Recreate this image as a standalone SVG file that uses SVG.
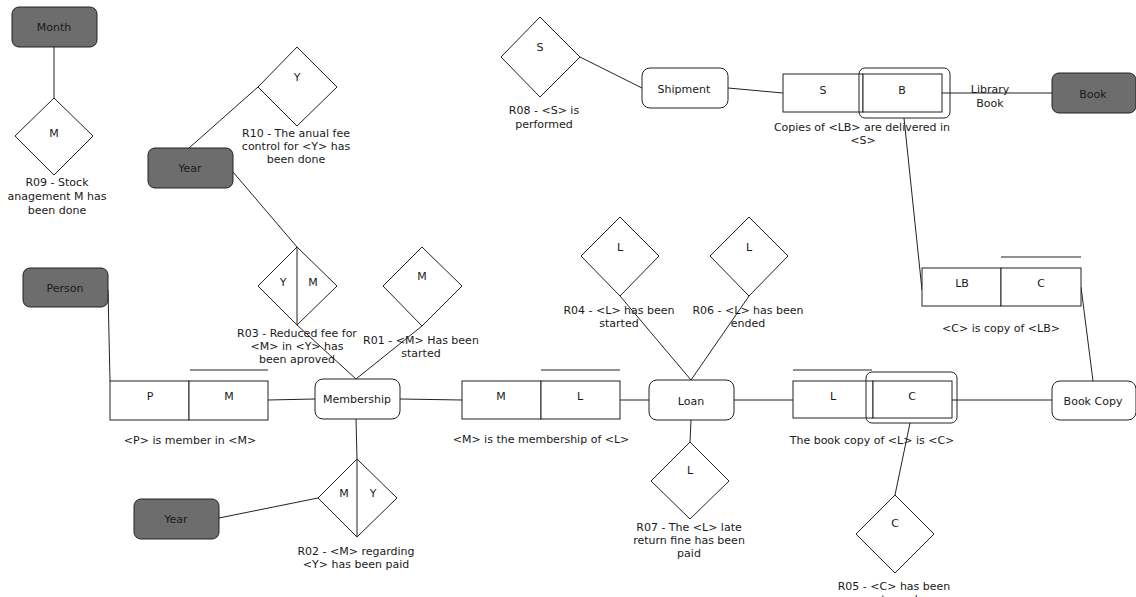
<svg xmlns="http://www.w3.org/2000/svg" width="1136" height="597" viewBox="0 0 1136 597">
  <style>
    text { font-family: "DejaVu Sans", Verdana, sans-serif; font-size: 11px; fill: #1a1a1a; text-anchor: middle; }
    .ent { fill: #6d6d6d; stroke: #222; stroke-width: 1; }
    .obj { fill: #fff; stroke: #222; stroke-width: 1; }
    .dia { fill: #fff; stroke: #222; stroke-width: 1; }
    .tbl { fill: #fff; stroke: #222; stroke-width: 1; }
    .wrap { fill: none; stroke: #222; stroke-width: 1; }
    .ln { fill: none; stroke: #222; stroke-width: 1; }
  </style>

  <!-- connectors -->
  <g id="connectors" class="ln">
    <line x1="54" y1="47" x2="54" y2="98"/>
    <line x1="189" y1="148" x2="258" y2="87"/>
    <line x1="233" y1="172" x2="297" y2="247"/>
    <line x1="297" y1="325" x2="356" y2="379"/>
    <line x1="422" y1="326" x2="356" y2="379"/>
    <line x1="108" y1="290" x2="110" y2="381"/>
    <line x1="268" y1="400" x2="315" y2="399"/>
    <line x1="400" y1="399" x2="462" y2="400"/>
    <line x1="356" y1="419" x2="357" y2="459"/>
    <line x1="219" y1="518" x2="318" y2="498"/>
    <line x1="620" y1="400" x2="649" y2="400"/>
    <line x1="620" y1="296" x2="691" y2="380"/>
    <line x1="749" y1="296" x2="691" y2="380"/>
    <line x1="691" y1="420" x2="690" y2="442"/>
    <line x1="734" y1="400" x2="793" y2="400"/>
    <line x1="952" y1="400" x2="1052" y2="400"/>
    <line x1="910" y1="423" x2="895" y2="495"/>
    <line x1="1093" y1="381" x2="1081" y2="287"/>
    <line x1="922" y1="290" x2="904" y2="118"/>
    <line x1="580" y1="57" x2="642" y2="88"/>
    <line x1="728" y1="88" x2="783" y2="93"/>
    <line x1="942" y1="93" x2="1052" y2="93"/>
  </g>

  <!-- entity types -->
  <g id="month">
    <rect class="ent" x="12" y="7" width="85" height="40" rx="7"/>
    <text x="54" y="31">Month</text>
  </g>
  <g id="year-top">
    <rect class="ent" x="148" y="148" width="85" height="40" rx="7"/>
    <text x="190" y="172">Year</text>
  </g>
  <g id="person">
    <rect class="ent" x="23" y="268" width="85" height="39" rx="7"/>
    <text x="65" y="292">Person</text>
  </g>
  <g id="year-bottom">
    <rect class="ent" x="134" y="499" width="85" height="40" rx="7"/>
    <text x="176" y="523">Year</text>
  </g>
  <g id="book">
    <rect class="ent" x="1052" y="73" width="84" height="40" rx="7"/>
    <text x="1093" y="98">Book</text>
  </g>

  <!-- objectified fact types -->
  <g id="membership">
    <rect class="obj" x="315" y="379" width="85" height="40" rx="8"/>
    <text x="357" y="403">Membership</text>
  </g>
  <g id="loan">
    <rect class="obj" x="649" y="380" width="85" height="40" rx="8"/>
    <text x="691" y="405">Loan</text>
  </g>
  <g id="shipment">
    <rect class="obj" x="642" y="68" width="86" height="40" rx="8"/>
    <text x="684" y="93">Shipment</text>
  </g>
  <g id="book-copy">
    <rect class="obj" x="1052" y="381" width="84" height="39" rx="8"/>
    <text x="1093" y="405">Book Copy</text>
  </g>

  <!-- fact types -->
  <g id="fact-pm">
    <rect class="tbl" x="110" y="381" width="79" height="39"/>
    <rect class="tbl" x="189" y="381" width="79" height="39"/>
    <line class="ln" x1="190" y1="370" x2="268" y2="370"/>
    <text x="150" y="400">P</text>
    <text x="229" y="400">M</text>
    <text x="190" y="444">&lt;P&gt; is member in &lt;M&gt;</text>
  </g>
  <g id="fact-ml">
    <rect class="tbl" x="462" y="381" width="79" height="38"/>
    <rect class="tbl" x="541" y="381" width="79" height="38"/>
    <line class="ln" x1="541" y1="370" x2="620" y2="370"/>
    <text x="501" y="400">M</text>
    <text x="580" y="400">L</text>
    <text x="541" y="443">&lt;M&gt; is the membership of &lt;L&gt;</text>
  </g>
  <g id="fact-lc">
    <rect class="tbl" x="793" y="381" width="80" height="37"/>
    <rect class="tbl" x="873" y="381" width="79" height="37"/>
    <rect class="wrap" x="866" y="372" width="91" height="51" rx="6"/>
    <line class="ln" x1="793" y1="370" x2="872" y2="370"/>
    <text x="833" y="400">L</text>
    <text x="912" y="400">C</text>
    <text x="872" y="444">The book copy of &lt;L&gt; is &lt;C&gt;</text>
  </g>
  <g id="fact-lbc">
    <rect class="tbl" x="922" y="268" width="79" height="38"/>
    <rect class="tbl" x="1001" y="268" width="80" height="38"/>
    <line class="ln" x1="1001" y1="257" x2="1081" y2="257"/>
    <text x="962" y="287">LB</text>
    <text x="1041" y="287">C</text>
    <text x="1001" y="332">&lt;C&gt; is copy of &lt;LB&gt;</text>
  </g>
  <g id="fact-sb">
    <rect class="tbl" x="783" y="74" width="80" height="38"/>
    <rect class="tbl" x="863" y="74" width="79" height="38"/>
    <rect class="wrap" x="859" y="68" width="91" height="50" rx="6"/>
    <text x="823" y="94">S</text>
    <text x="902" y="94">B</text>
    <text x="862" y="131">Copies of &lt;LB&gt; are delivered in</text>
    <text x="863" y="144">&lt;S&gt;</text>
    <text x="990" y="93">Library</text>
    <text x="990" y="107">Book</text>
  </g>

  <!-- events -->
  <g id="r09">
    <polygon class="dia" points="54,98 93,136 54,175 15,136"/>
    <text x="54" y="137">M</text>
    <text x="57" y="186">R09 - Stock</text>
    <text x="57" y="200">anagement M has</text>
    <text x="57" y="214">been done</text>
  </g>
  <g id="r10">
    <polygon class="dia" points="297,47 337,87 297,126 258,87"/>
    <text x="297" y="81">Y</text>
    <text x="296" y="137">R10 - The anual fee</text>
    <text x="296" y="150">control for &lt;Y&gt; has</text>
    <text x="296" y="163">been done</text>
  </g>
  <g id="r03">
    <polygon class="dia" points="297,247 337,286 297,325 258,286"/>
    <line class="ln" x1="297" y1="247" x2="297" y2="325"/>
    <text x="283" y="286">Y</text>
    <text x="313" y="286">M</text>
    <text x="297" y="337">R03 - Reduced fee for</text>
    <text x="297" y="350">&lt;M&gt; in &lt;Y&gt; has</text>
    <text x="297" y="363">been aproved</text>
  </g>
  <g id="r01">
    <polygon class="dia" points="422,247 462,286 422,326 383,286"/>
    <text x="422" y="280">M</text>
    <text x="421" y="344">R01 - &lt;M&gt; Has been</text>
    <text x="421" y="357">started</text>
  </g>
  <g id="r02">
    <polygon class="dia" points="357,459 397,498 357,537 318,498"/>
    <line class="ln" x1="357" y1="459" x2="357" y2="537"/>
    <text x="344" y="497">M</text>
    <text x="373" y="497">Y</text>
    <text x="356" y="555">R02 - &lt;M&gt; regarding</text>
    <text x="356" y="568">&lt;Y&gt; has been paid</text>
  </g>
  <g id="r04">
    <polygon class="dia" points="620,217 659,256 620,296 581,256"/>
    <text x="620" y="251">L</text>
    <text x="619" y="314">R04 - &lt;L&gt; has been</text>
    <text x="619" y="327">started</text>
  </g>
  <g id="r06">
    <polygon class="dia" points="749,217 788,256 749,296 710,256"/>
    <text x="749" y="251">L</text>
    <text x="748" y="314">R06 - &lt;L&gt; has been</text>
    <text x="748" y="327">ended</text>
  </g>
  <g id="r07">
    <polygon class="dia" points="690,442 729,481 690,519 651,481"/>
    <text x="690" y="474">L</text>
    <text x="689" y="531">R07 - The &lt;L&gt; late</text>
    <text x="689" y="544">return fine has been</text>
    <text x="689" y="557">paid</text>
  </g>
  <g id="r05">
    <polygon class="dia" points="895,495 934,534 895,573 856,534"/>
    <text x="895" y="527">C</text>
    <text x="894" y="590">R05 - &lt;C&gt; has been</text>
    <text x="894" y="603">returned</text>
  </g>
  <g id="r08">
    <polygon class="dia" points="540,17 580,57 540,97 501,57"/>
    <text x="540" y="51">S</text>
    <text x="544" y="114">R08 - &lt;S&gt; is</text>
    <text x="544" y="128">performed</text>
  </g>
</svg>
